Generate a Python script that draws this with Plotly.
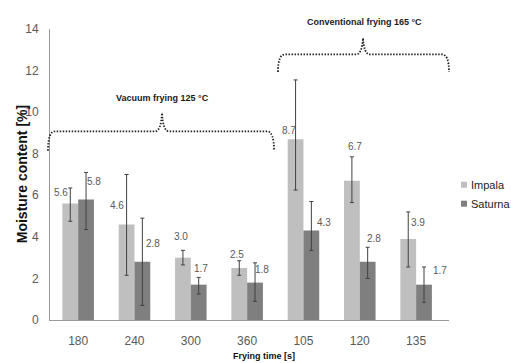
import plotly.graph_objects as go

# Frying times (s) for vacuum (125 °C) and conventional (165 °C) frying
frying_times = ["180", "240", "300", "360", "105", "120", "135"]

impala = [5.6, 4.6, 3.0, 2.5, 8.7, 6.7, 3.9]
impala_err_plus = [0.75, 2.4, 0.35, 0.35, 2.85, 1.15, 1.3]
impala_err_minus = [0.85, 2.45, 0.35, 0.35, 2.45, 1.05, 1.35]

saturna = [5.8, 2.8, 1.7, 1.8, 4.3, 2.8, 1.7]
saturna_err_plus = [1.3, 2.1, 0.35, 0.95, 1.4, 0.7, 0.85]
saturna_err_minus = [1.45, 2.1, 0.45, 0.9, 0.95, 0.8, 0.85]

y_ticks = [0, 2, 4, 6, 8, 10, 12, 14]

# pixel nudges (dx, dy) for the value labels so they clear the error bars
impala_label_nudge = [(-9, 11), (-10, 19), (-2, 21), (-2, 14), (-7, 9), (3, 34), (10, 16)]
saturna_label_nudge = [(8, 18), (11, 18), (2, 16), (7, 13), (13, 8), (6, 23), (16, 14)]

LIGHT = "#bfbfbf"
DARK = "#7f7f7f"
TEXT_GREY = "#595959"
ERR = "#404040"
FONT = "Liberation Sans, Arial, sans-serif"

W, H = 511, 363
M_L, M_R, M_T, M_B = 50, 62, 29, 42.5
PW = W - M_L - M_R
PH = H - M_T - M_B


def px(x):
    return (x - M_L) / PW


def py(y):
    return (H - M_B - y) / PH


fig = go.Figure()
fig.add_trace(go.Bar(
    name="Impala", x=frying_times, y=impala, marker_color=LIGHT,
    marker_line_width=0,
    error_y=dict(type="data", symmetric=False, array=impala_err_plus,
                 arrayminus=impala_err_minus, color=ERR, thickness=1, width=2),
))
fig.add_trace(go.Bar(
    name="Saturna", x=frying_times, y=saturna, marker_color=DARK,
    marker_line_width=0,
    error_y=dict(type="data", symmetric=False, array=saturna_err_plus,
                 arrayminus=saturna_err_minus, color=ERR, thickness=1, width=2),
))

annotations = []
for i, cat in enumerate(frying_times):
    for vals, nudge, off in ((impala, impala_label_nudge, -0.14),
                             (saturna, saturna_label_nudge, 0.14)):
        dx, dy = nudge[i]
        annotations.append(dict(
            x=i + off, y=vals[i], xref="x", yref="y", text=f"{vals[i]:.1f}",
            showarrow=False, xshift=dx, yshift=dy, xanchor="center", yanchor="middle",
            font=dict(family=FONT, size=10, color=TEXT_GREY),
        ))


def paper_text(x, y, text, size, bold=False, angle=0, xanchor="center", color="#111"):
    return dict(
        x=px(x), y=py(y), xref="paper", yref="paper",
        text=f"<b>{text}</b>" if bold else text,
        showarrow=False, textangle=angle, xanchor=xanchor, yanchor="middle",
        font=dict(family=FONT, size=size, color=color),
    )


# axis titles
annotations.append(paper_text(264, 356.5, "Frying time [s]", 9, bold=True))
annotations.append(paper_text(21.5, 175, "Moisture content [%]", 14, bold=True, angle=-90))

# brace captions
annotations.append(paper_text(162.5, 98, "Vacuum frying 125 °C", 9, bold=True, color="#1a1a1a"))
annotations.append(paper_text(364, 21.5, "Conventional frying 165 °C", 9, bold=True, color="#1a1a1a"))

# legend drawn by hand: small squares with names
legend_items = [("Impala", LIGHT, 185), ("Saturna", DARK, 204)]
shapes = []
for name, col, yc in legend_items:
    shapes.append(dict(type="rect", xref="paper", yref="paper",
                       x0=px(461), x1=px(467), y0=py(yc + 3), y1=py(yc - 3),
                       fillcolor=col, line_width=0))
    annotations.append(paper_text(469, yc, name, 11, xanchor="left", color="#222"))


def brace(x0, x1, xm, y_end, y_bar, y_peak, r=7):
    pts = [
        f"M{px(x0)},{py(y_end)}",
        f"Q{px(x0)},{py(y_bar)} {px(x0 + r)},{py(y_bar)}",
        f"L{px(xm - r)},{py(y_bar)}",
        f"Q{px(xm - 1)},{py(y_bar)} {px(xm)},{py(y_peak)}",
        f"Q{px(xm + 1)},{py(y_bar)} {px(xm + r)},{py(y_bar)}",
        f"L{px(x1 - r)},{py(y_bar)}",
        f"Q{px(x1)},{py(y_bar)} {px(x1)},{py(y_end)}",
    ]
    return dict(type="path", xref="paper", yref="paper", path=" ".join(pts),
                line=dict(color="#222", width=1.8, dash="1.5px,1.5px"))


shapes.append(brace(48, 274, 162, 151, 131.5, 113))
shapes.append(brace(278, 449, 363, 72, 54.5, 38))

fig.update_layout(
    width=W, height=H,
    margin=dict(l=M_L, r=M_R, t=M_T, b=M_B),
    paper_bgcolor="white", plot_bgcolor="white",
    barmode="group", bargap=0.44, bargroupgap=0,
    showlegend=False,
    annotations=annotations, shapes=shapes,
    xaxis=dict(showline=True, linecolor="#9a9a9a", linewidth=1, ticks="",
               showgrid=False, tickfont=dict(family=FONT, size=12, color=TEXT_GREY),
               ticklabelstandoff=10),
    yaxis=dict(range=[0, 14], tickvals=y_ticks, showline=True, linecolor="#9a9a9a",
               linewidth=1, ticks="", showgrid=False, zeroline=False,
               tickfont=dict(family=FONT, size=12, color=TEXT_GREY),
               ticklabelstandoff=8),
)

fig.write_html("out.html")
